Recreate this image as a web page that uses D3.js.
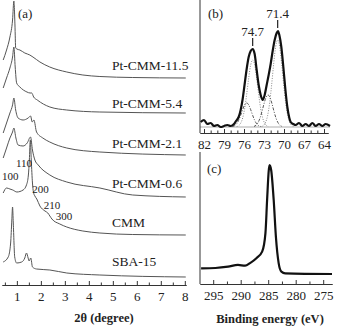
<!DOCTYPE html>
<html>
<head>
<meta charset="utf-8">
<script src="https://cdnjs.cloudflare.com/ajax/libs/d3/7.8.5/d3.min.js"></script>
<style>
body { margin: 0; background: #fff; }
svg text { font-family: "Liberation Serif", "Times New Roman", "DejaVu Serif", serif; fill: #222; }
</style>
</head>
<body>
<div id="chart"></div>
<script>
// (a) patrones XRD de bajo ángulo, [2theta, intensidad]
var xrdNames = ["Pt-CMM-11.5", "Pt-CMM-5.4", "Pt-CMM-2.1", "Pt-CMM-0.6", "CMM", "SBA-15"];
var xrdOffsets = [207, 172, 130, 88, 50, 8];
var xrd11_5 = [[0.43,18],[0.57,28],[0.71,41],[0.82,58],[0.875,77],[0.92,53],[0.95,30],[1.0,29],[1.125,28],[1.33,25],[1.54,23],[1.67,21],[1.96,16],[2.37,11],[3.08,6],[3.75,3],[4.46,1.5],[5.83,0.5],[8.04,0]];
var xrd5_4 = [[0.43,25],[0.57,35],[0.71,45],[0.82,56],[0.875,66],[0.93,46],[0.99,30],[1.125,26],[1.42,21],[1.55,20],[1.62,20],[1.7,16],[1.85,13],[2.375,6],[3.08,3],[4.46,1],[8.04,0]];
var xrd2_1 = [[0.43,22],[0.57,32],[0.71,42],[0.82,50],[0.875,57],[0.95,45],[1.05,37],[1.26,35],[1.47,37],[1.57,39],[1.64,33],[1.71,35],[1.82,23],[2.08,17],[2.37,13],[3.08,7],[4.46,3],[8.04,0]];
var xrd0_6 = [[0.43,39],[0.57,49],[0.71,59],[0.82,65],[0.875,69],[0.96,59],[1.05,52],[1.26,51],[1.43,54],[1.57,60],[1.65,47],[1.75,37],[1.89,32],[2.375,22],[3.08,15],[4.46,9],[5.83,2],[8.04,0]];
var xrdCMM = [[0.43,42],[0.57,47],[0.71,46],[0.83,45],[1.0,43],[1.26,45],[1.40,50],[1.48,60],[1.52,75],[1.56,95],[1.60,75],[1.65,52],[1.69,43],[1.75,39],[1.83,36],[1.96,29],[2.17,24],[2.29,22],[2.375,19],[2.46,16],[2.79,11],[3.08,8],[3.75,4],[4.46,2],[5.83,0.5],[8.04,0]];
var xrdSBA = [[0.43,15],[0.64,20],[0.74,34],[0.79,57],[0.82,70],[0.85,54],[0.91,20],[0.99,14],[1.20,15],[1.33,19],[1.40,24],[1.47,19],[1.51,16],[1.58,19],[1.65,10],[1.82,8],[2.375,7],[3.08,4],[4.46,2],[8.04,0]];
var xrdSeries = [xrd11_5, xrd5_4, xrd2_1, xrd0_6, xrdCMM, xrdSBA];
// índices de Miller sobre CMM: [2theta, altura absoluta]
var millerLabels = ["100", "110", "200", "210", "300"];
var millerPos = [[0.72, 109], [1.3, 122], [1.98, 96], [2.46, 80], [2.96, 69]];
var xrdTicks = [1, 2, 3, 4, 5, 6, 7, 8];
var xrdMinor = [0.5, 1.5, 2.5, 3.5, 4.5, 5.5, 6.5, 7.5];

// (b) XPS Pt 4f, [BE, intensidad]
var ptEnvelope = [[82.5,5],[82.0,7],[81.5,3],[81.0,4],[80.5,1],[80.0,2],[79.5,0],[79.0,1],[78.5,2],[78.0,1],[77.5,3],[77.2,6],[76.8,10],[76.5,17],[76.2,28],[75.9,43],[75.6,58],[75.3,70],[75.0,76],[74.7,78],[74.4,73],[74.1,57],[73.8,42],[73.5,32],[73.2,27],[72.9,32],[72.6,42],[72.3,52],[72.0,63],[71.7,76],[71.4,87],[71.1,94],[70.9,96],[70.7,92],[70.4,80],[70.1,60],[69.8,38],[69.5,20],[69.2,9],[69.0,5],[68.6,3],[68.25,2],[67.75,4],[67.25,1],[66.75,3],[66.25,1],[65.75,4],[65.25,1],[64.75,3],[64.25,1],[63.75,3],[63.1,1]];
var ptMetal1 = [[77.1,0.4],[76.8,1.3],[76.5,3.8],[76.2,9],[75.9,18.6],[75.6,32.6],[75.3,48.7],[75.0,62],[74.7,67],[74.4,62],[74.1,48.7],[73.8,32.6],[73.5,18.6],[73.2,9],[72.9,3.8],[72.6,1.3],[72.3,0.4]];
var ptMetal2 = [[73.35,0.5],[73.05,1.7],[72.75,4.9],[72.45,11.7],[72.15,24.2],[71.85,42.4],[71.55,63.2],[71.25,80.3],[70.95,87],[70.65,80.3],[70.35,63.2],[70.05,42.4],[69.75,24.2],[69.45,11.7],[69.15,4.9],[68.85,1.7],[68.55,0.5]];
var ptOxide1 = [[77.7,0.5],[77.4,1.3],[77.1,3.2],[76.8,6.7],[76.5,11.7],[76.2,17.4],[75.9,22.2],[75.6,24],[75.3,22.2],[75.0,17.4],[74.7,11.7],[74.4,6.7],[74.1,3.2],[73.8,1.3],[73.5,0.5]];
var ptOxide2 = [[74.5,0.6],[74.2,1.7],[73.9,4.3],[73.6,8.9],[73.3,15.6],[73.0,23.2],[72.7,29.5],[72.4,32],[72.1,29.5],[71.8,23.2],[71.5,15.6],[71.2,8.9],[70.9,4.3],[70.6,1.7],[70.3,0.6]];
var ptPeakLabels = ["74.7", "71.4"];
var ptPeakPos = [[74.7, 78], [70.95, 96]];
var ptTicks = [82, 79, 76, 73, 70, 67, 64];
var ptMinor = [81, 80, 78, 77, 75, 74, 72, 71, 69, 68, 66, 65];

// (c) XPS C 1s
var c1s = [[297.2,5.2],[294.6,5.5],[292.3,6.7],[290.5,8.3],[289.2,7.6],[288.3,10],[287.1,14.7],[286.1,20.5],[285.5,37.6],[285.2,67.9],[284.9,95],[284.75,100],[284.45,95],[284.0,67.9],[283.6,34.2],[283.1,10],[282.6,2.1],[281.9,0.6],[273.4,0]];
var cTicks = [295, 290, 285, 280, 275];
var cMinor = [292.5, 287.5, 282.5, 277.5];

var W = 346, H = 326;
var serif = '"Liberation Serif", "Times New Roman", serif';
var svg = d3.select('#chart').append('svg').attr('width', W).attr('height', H);

// Escalas
var xA = d3.scaleLinear().domain([0.38, 8.05]).range([2, 186]);
var yA = d3.scaleLinear().domain([0, 285]).range([285, 0]);
var xB = d3.scaleLinear().domain([82.6, 63.4]).range([200, 328]);
var yB = d3.scaleLinear().domain([-6, 127]).range([133, 0]);
var xC = d3.scaleLinear().domain([297.4, 273.4]).range([200, 332]);
var yC = d3.scaleLinear().domain([-9.2, 112]).range([284, 152]);

function bottomAxis(scale, y, majors, minors) {
	var g = svg.append('g').attr('transform', 'translate(0,' + y + ')');
	g.call(d3.axisBottom(scale).tickValues(minors).tickSizeInner(-2.5).tickSizeOuter(0).tickFormat(''));
	g.append('g').call(d3.axisBottom(scale).tickValues(majors).tickSizeInner(-4).tickSizeOuter(0).tickPadding(7));
	g.selectAll('path, line').attr('stroke', '#333');
	g.selectAll('g').attr('font-family', serif);
	g.attr('font-family', serif);
	g.selectAll('text').attr('font-family', serif).attr('font-size', 13).attr('fill', '#222');
	return g;
}

function label(x, y, size, txt) {
	return svg.append('text').attr('x', x).attr('y', y).attr('font-family', serif).attr('font-size', size).text(txt);
}

// ---- (a)
var lineA = d3.line().x(function (d) { return xA(d[0]) }).curve(d3.curveMonotoneX);
xrdSeries.forEach(function (s, i) {
	svg.append('path')
		.attr('d', lineA.y(function (d) { return yA(d[1] + xrdOffsets[i]) })(s))
		.attr('fill', 'none').attr('stroke', '#555').attr('stroke-width', 1);
});
var labelY = [65, 103, 143, 183, 222, 261];
xrdNames.forEach(function (n, i) {
	label(112, labelY[i] + 4.5, 13.5, n);
});
millerLabels.forEach(function (m, i) {
	label(xA(millerPos[i][0]), yA(millerPos[i][1]) + 4, 11, m).attr('text-anchor', 'middle');
});
bottomAxis(xA, 285, xrdTicks, xrdMinor);
label(18, 17.5, 13, '(a)');
label(104, 322, 12.5, '2θ (degree)').attr('text-anchor', 'middle').attr('font-weight', 'bold');

// ---- (b)
var lineB = d3.line().x(function (d) { return xB(d[0]) }).y(function (d) { return yB(d[1]) }).curve(d3.curveMonotoneX);
svg.append('line').attr('x1', xB(82.6)).attr('x2', xB(63.1)).attr('y1', yB(0)).attr('y2', yB(0))
	.attr('stroke', '#999').attr('stroke-width', 0.8);
[ptMetal1, ptMetal2].forEach(function (s) {
	svg.append('path').attr('d', lineB(s)).attr('fill', 'none').attr('stroke', '#888')
		.attr('stroke-width', 1).attr('stroke-dasharray', '1,1.5');
});
[ptOxide1, ptOxide2].forEach(function (s) {
	svg.append('path').attr('d', lineB(s)).attr('fill', 'none').attr('stroke', '#444')
		.attr('stroke-width', 0.9).attr('stroke-dasharray', '3,1.5,1,1.5');
});
svg.append('path').attr('d', lineB(ptEnvelope)).attr('fill', 'none').attr('stroke', '#111').attr('stroke-width', 2.2);
svg.append('line').attr('x1', 200).attr('x2', 200).attr('y1', 0).attr('y2', 133).attr('stroke', '#333');
bottomAxis(xB, 133, ptTicks, ptMinor);
ptPeakLabels.forEach(function (t, i) {
	var px = xB(ptPeakPos[i][0]), py = yB(ptPeakPos[i][1]);
	svg.append('line').attr('x1', px).attr('x2', px).attr('y1', py - 11).attr('y2', py - 3)
		.attr('stroke', '#222').attr('stroke-width', 1.2);
	label(px, py - 13, 13, t).attr('text-anchor', 'middle');
});
label(208, 17.5, 13, '(b)');

// ---- (c)
var lineC = d3.line().x(function (d) { return xC(d[0]) }).y(function (d) { return yC(d[1]) }).curve(d3.curveMonotoneX);
svg.append('path').attr('d', lineC(c1s)).attr('fill', 'none').attr('stroke', '#111').attr('stroke-width', 2.2);
svg.append('line').attr('x1', 200).attr('x2', 200).attr('y1', 152).attr('y2', 284).attr('stroke', '#333');
bottomAxis(xC, 284, cTicks, cMinor);
label(207, 172.5, 13, '(c)');
label(270, 323, 12.5, 'Binding energy (eV)').attr('text-anchor', 'middle').attr('font-weight', 'bold');
</script>
</body>
</html>
